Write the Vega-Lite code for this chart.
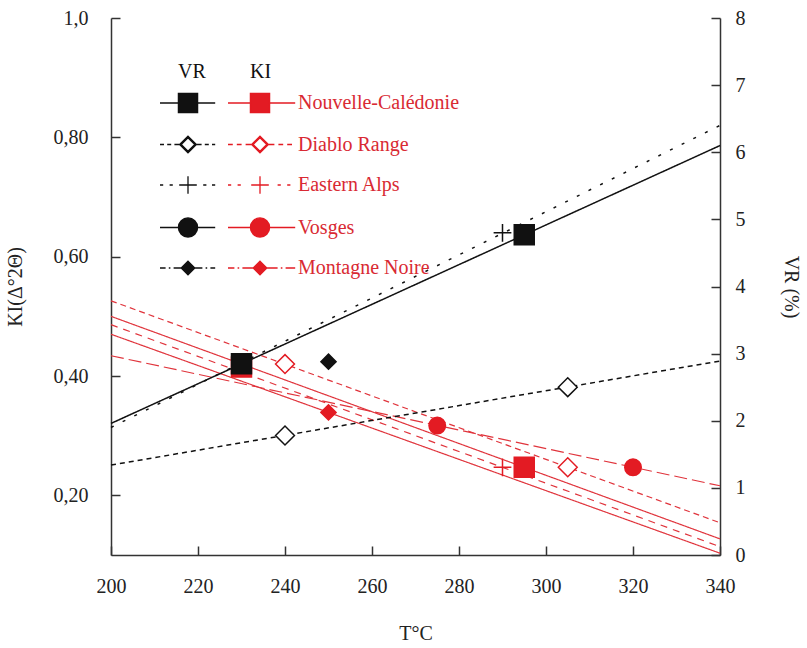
{
  "$schema": "https://vega.github.io/schema/vega-lite/v6.json",
  "width": 609,
  "height": 537,
  "autosize": {"type": "none"},
  "padding": {"left": 111, "top": 18, "right": 87, "bottom": 93},
  "background": "white",
  "config": {
    "view": {"stroke": null},
    "font": "Liberation Serif",
    "axis": {
      "grid": false,
      "labelFont": "Liberation Serif",
      "titleFont": "Liberation Serif",
      "labelFontSize": 20,
      "titleFontSize": 20,
      "titleFontWeight": "normal",
      "labelColor": "#222222",
      "titleColor": "#222222",
      "domainColor": "#333333",
      "domainWidth": 1.5,
      "tickColor": "#333333",
      "tickWidth": 1.5,
      "tickSize": -9,
      "labelFlush": false,
      "labelOverlap": false,
      "labelBound": false
    }
  },
  "datasets": {
    "pts": [
      {"site": "Nouvelle-Calédonie", "param": "KI", "T": 230, "v": 0.415},
      {"site": "Nouvelle-Calédonie", "param": "KI", "T": 295, "v": 0.247},
      {"site": "Diablo Range", "param": "KI", "T": 240, "v": 0.42},
      {"site": "Diablo Range", "param": "KI", "T": 305, "v": 0.247},
      {"site": "Eastern Alps", "param": "KI", "T": 290, "v": 0.247},
      {"site": "Vosges", "param": "KI", "T": 275, "v": 0.317},
      {"site": "Vosges", "param": "KI", "T": 320, "v": 0.247},
      {"site": "Montagne Noire", "param": "KI", "T": 250, "v": 0.339},
      {"site": "Nouvelle-Calédonie", "param": "VR", "T": 230, "v": 2.85},
      {"site": "Nouvelle-Calédonie", "param": "VR", "T": 295, "v": 4.77},
      {"site": "Diablo Range", "param": "VR", "T": 240, "v": 1.78},
      {"site": "Diablo Range", "param": "VR", "T": 305, "v": 2.5},
      {"site": "Eastern Alps", "param": "VR", "T": 290, "v": 4.8},
      {"site": "Montagne Noire", "param": "VR", "T": 250, "v": 2.88}
    ],
    "fits": [
      {"site": "Nouvelle-Calédonie", "param": "KI", "T": 200, "v": 0.5},
      {"site": "Nouvelle-Calédonie", "param": "KI", "T": 340, "v": 0.127},
      {"site": "Diablo Range", "param": "KI", "T": 200, "v": 0.526},
      {"site": "Diablo Range", "param": "KI", "T": 340, "v": 0.154},
      {"site": "Eastern Alps", "param": "KI", "T": 200, "v": 0.486},
      {"site": "Eastern Alps", "param": "KI", "T": 340, "v": 0.114},
      {"site": "Vosges", "param": "KI", "T": 200, "v": 0.434},
      {"site": "Vosges", "param": "KI", "T": 340, "v": 0.216},
      {"site": "Montagne Noire", "param": "KI", "T": 200, "v": 0.47},
      {"site": "Montagne Noire", "param": "KI", "T": 340, "v": 0.103},
      {"site": "Nouvelle-Calédonie", "param": "VR", "T": 200, "v": 1.96},
      {"site": "Nouvelle-Calédonie", "param": "VR", "T": 340, "v": 6.1},
      {"site": "Diablo Range", "param": "VR", "T": 200, "v": 1.34},
      {"site": "Diablo Range", "param": "VR", "T": 340, "v": 2.89},
      {"site": "Eastern Alps", "param": "VR", "T": 200, "v": 1.9},
      {"site": "Eastern Alps", "param": "VR", "T": 340, "v": 6.4}
    ]
  },
  "encoding": {
    "x": {
      "field": "T",
      "type": "quantitative",
      "scale": {"domain": [200, 340], "nice": false, "zero": false},
      "axis": {
        "orient": "bottom",
        "values": [200, 220, 240, 260, 280, 300, 320, 340],
        "format": "d",
        "title": "T°C",
        "labelPadding": 30,
        "titleX": 304.5,
        "titleY": 78,
        "titleBaseline": "middle",
        "titleAlign": "center"
      }
    }
  },
  "layer": [
    {
      "encoding": {
        "y": {
          "field": "v",
          "type": "quantitative",
          "scale": {"domain": [0.1, 1.0], "nice": false, "zero": false},
          "axis": {
            "orient": "left",
            "values": [0.2, 0.4, 0.6, 0.8, 1.0],
            "labelExpr": "datum.value >= 0.99 ? '1,0' : replace(format(datum.value, '.2f'), '.', ',')",
            "title": "KI(Δ°2Θ)",
            "labelPadding": 32,
            "titleX": -96,
            "titleY": 268.5,
            "titleAngle": -90,
            "titleBaseline": "middle",
            "titleAlign": "center"
          }
        }
      },
      "layer": [
        {
          "data": {"name": "fits"},
          "transform": [{"filter": "datum.param == 'KI'"}],
          "mark": {"type": "line", "color": "#e0343c", "strokeWidth": 1.2},
          "encoding": {
            "detail": {"field": "site", "type": "nominal"},
            "strokeDash": {
              "field": "site",
              "type": "nominal",
              "scale": {
                "domain": ["Nouvelle-Calédonie", "Diablo Range", "Eastern Alps", "Vosges", "Montagne Noire"],
                "range": [[1, 0], [6, 4], [7, 6], [13, 5], [1, 0]]
              },
              "legend": null
            }
          }
        },
        {
          "data": {"name": "pts"},
          "transform": [{"filter": "datum.param == 'KI'"}],
          "mark": {"type": "point", "stroke": "#e31b23", "strokeWidth": 1.5, "opacity": 1},
          "encoding": {
            "shape": {
              "field": "site",
              "type": "nominal",
              "scale": {
                "domain": ["Nouvelle-Calédonie", "Diablo Range", "Eastern Alps", "Vosges", "Montagne Noire"],
                "range": ["square", "diamond", "M-1,0H1M0,-1V1", "circle", "diamond"]
              },
              "legend": null
            },
            "fill": {
              "field": "site",
              "type": "nominal",
              "scale": {
                "domain": ["Nouvelle-Calédonie", "Diablo Range", "Eastern Alps", "Vosges", "Montagne Noire"],
                "range": ["#e31b23", "white", "transparent", "#e31b23", "#e31b23"]
              },
              "legend": null
            },
            "size": {
              "field": "site",
              "type": "ordinal",
              "scale": {
                "domain": ["Nouvelle-Calédonie", "Diablo Range", "Eastern Alps", "Vosges", "Montagne Noire"],
                "range": [400, 230, 320, 380, 180]
              },
              "legend": null
            }
          }
        },
        {
          "data": {"name": "pts"},
          "transform": [{"filter": "false"}],
          "mark": {"type": "point", "filled": true, "fill": "#e31b23", "stroke": "#e31b23", "strokeWidth": 1.3, "opacity": 1, "size": 256},
          "encoding": {
            "shape": {
              "field": "site",
              "type": "nominal",
              "scale": {
                "domain": ["Nouvelle-Calédonie", "Diablo Range", "Eastern Alps", "Vosges", "Montagne Noire"],
                "range": [
                  "M-4,0H-1.2M1.2,0H4.4M-1.2,-1.2H1.2V1.2H-1.2Z",
                  "M-4,0H-3.4M-2.9,0H-2.3M-1.8,0H-1.1M1.1,0H1.8M2.3,0H2.9M3.4,0H4M0,-1.05L1.05,0L0,1.05L-1.05,0ZM0,-0.85L-0.85,0L0,0.85L0.85,0Z",
                  "M-4,0H-3.6M-2.8,0H-2.4M-1.1,0H1.1M0,-1.1V1.1M2.2,0H2.6M3.4,0H3.8",
                  "M-4,0H-1.2M1.2,0H4.4M-1.2,0A1.2,1.2,0,1,1,1.2,0A1.2,1.2,0,1,1,-1.2,0Z",
                  "M-4,0H-3.2M-2.8,0H-2.6M-2.2,0H-0.8M0.8,0H2.2M2.6,0H2.8M3.2,0H4.4M0,-0.85L0.85,0L0,0.85L-0.85,0Z"
                ]
              },
              "legend": {
                "title": "KI",
                "orient": "none",
                "legendX": 139,
                "legendY": 44,
                "padding": 0,
                "symbolSize": 256,
                "symbolStrokeWidth": 1.3,
                "labelOffset": 28,
                "labelFont": "Liberation Serif",
                "labelFontSize": 20,
                "labelColor": "#d92a33",
                "labelLimit": 400,
                "titleFont": "Liberation Serif",
                "titleFontSize": 20,
                "titleFontWeight": "normal",
                "titleColor": "#111111",
                "titlePadding": 11,
                "rowPadding": 17.5,
                "encode": {
                  "symbols": {
                    "update": {
                      "fill": {"value": "#e31b23"},
                      "stroke": {"value": "#e31b23"},
                      "strokeWidth": {"value": 1.3},
                      "opacity": {"value": 1}
                    }
                  }
                }
              }
            }
          }
        }
      ],
      "resolve": {"scale": {"shape": "independent"}}
    },
    {
      "encoding": {
        "y": {
          "field": "v",
          "type": "quantitative",
          "scale": {"domain": [0, 8], "nice": false, "zero": false},
          "axis": {
            "orient": "right",
            "values": [0, 1, 2, 3, 4, 5, 6, 7, 8],
            "format": "d",
            "title": "VR (%)",
            "labelPadding": 24,
            "titleX": 70,
            "titleY": 268.5,
            "titleAngle": 90,
            "titleBaseline": "middle",
            "titleAlign": "center"
          }
        }
      },
      "layer": [
        {
          "data": {"name": "fits"},
          "transform": [{"filter": "datum.param == 'VR'"}],
          "mark": {"type": "line", "color": "#111111", "strokeWidth": 1.5},
          "encoding": {
            "detail": {"field": "site", "type": "nominal"},
            "strokeDash": {
              "field": "site",
              "type": "nominal",
              "scale": {
                "domain": ["Nouvelle-Calédonie", "Diablo Range", "Eastern Alps"],
                "range": [[1, 0], [5, 4], [3, 10]]
              },
              "legend": null
            }
          }
        },
        {
          "data": {"name": "pts"},
          "transform": [{"filter": "datum.param == 'VR'"}],
          "mark": {"type": "point", "stroke": "#111111", "strokeWidth": 1.5, "opacity": 1},
          "encoding": {
            "shape": {
              "field": "site",
              "type": "nominal",
              "scale": {
                "domain": ["Nouvelle-Calédonie", "Diablo Range", "Eastern Alps", "Vosges", "Montagne Noire"],
                "range": ["square", "diamond", "M-1,0H1M0,-1V1", "circle", "diamond"]
              },
              "legend": null
            },
            "fill": {
              "field": "site",
              "type": "nominal",
              "scale": {
                "domain": ["Nouvelle-Calédonie", "Diablo Range", "Eastern Alps", "Vosges", "Montagne Noire"],
                "range": ["#111111", "white", "transparent", "#111111", "#111111"]
              },
              "legend": null
            },
            "size": {
              "field": "site",
              "type": "ordinal",
              "scale": {
                "domain": ["Nouvelle-Calédonie", "Diablo Range", "Eastern Alps", "Vosges", "Montagne Noire"],
                "range": [400, 230, 320, 380, 180]
              },
              "legend": null
            }
          }
        },
        {
          "data": {"name": "pts"},
          "transform": [{"filter": "false"}],
          "mark": {"type": "point", "filled": true, "fill": "#111111", "stroke": "#111111", "strokeWidth": 1.3, "opacity": 1, "size": 256},
          "encoding": {
            "shape": {
              "field": "site",
              "type": "nominal",
              "scale": {
                "domain": ["Nouvelle-Calédonie", "Diablo Range", "Eastern Alps", "Vosges", "Montagne Noire"],
                "range": [
                  "M-3.5,0H-1.2M1.2,0H3.4M-1.2,-1.2H1.2V1.2H-1.2Z",
                  "M-3.5,0H-3M-2.6,0H-2.1M-1.7,0H-1.1M1.1,0H1.7M2.1,0H2.6M3,0H3.4M0,-1.05L1.05,0L0,1.05L-1.05,0ZM0,-0.85L-0.85,0L0,0.85L0.85,0Z",
                  "M-3.5,0H-3.1M-2.3,0H-1.9M-1.1,0H1.1M0,-1.1V1.1M1.9,0H2.3M3,0H3.4",
                  "M-3.5,0H-1.2M1.2,0H3.4M-1.2,0A1.2,1.2,0,1,1,1.2,0A1.2,1.2,0,1,1,-1.2,0Z",
                  "M-3.5,0H-2.8M-2.4,0H-2.2M-1.8,0H-0.8M0.8,0H1.8M2.2,0H2.4M2.8,0H3.4M0,-0.85L0.85,0L0,0.85L-0.85,0Z"
                ]
              },
              "legend": {
                "title": "VR",
                "orient": "none",
                "legendX": 67,
                "legendY": 44,
                "padding": 0,
                "symbolSize": 256,
                "symbolStrokeWidth": 1.3,
                "labelOffset": 28,
                "labelExpr": "''",
                "labelFont": "Liberation Serif",
                "labelFontSize": 20,
                "titleFont": "Liberation Serif",
                "titleFontSize": 20,
                "titleFontWeight": "normal",
                "titleColor": "#111111",
                "titlePadding": 11,
                "rowPadding": 17.5,
                "encode": {
                  "symbols": {
                    "update": {
                      "fill": {"value": "#111111"},
                      "stroke": {"value": "#111111"},
                      "strokeWidth": {"value": 1.3},
                      "opacity": {"value": 1}
                    }
                  }
                }
              }
            }
          }
        }
      ],
      "resolve": {"scale": {"shape": "independent"}}
    }
  ],
  "resolve": {"scale": {"y": "independent", "shape": "independent", "fill": "independent", "size": "independent", "strokeDash": "independent"}}
}
